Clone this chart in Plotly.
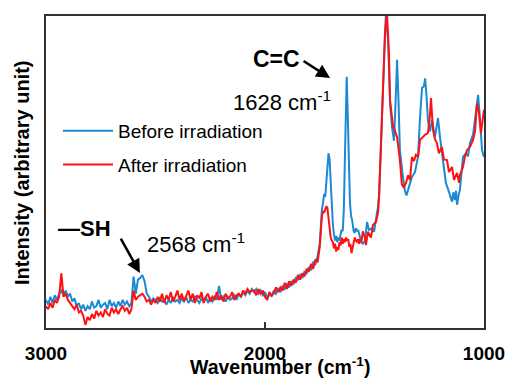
import plotly.graph_objects as go

# ---------------- data ----------------
# Before irradiation (blue)
wn_before = [
    3000, 2990, 2980, 2970, 2960, 2950, 2940, 2930, 2920, 2910, 2900, 2890, 2880, 2870, 2860,
    2850, 2840, 2830, 2820, 2810, 2800, 2790, 2780, 2770, 2760, 2750, 2740, 2730, 2720, 2710,
    2700, 2690, 2680, 2670, 2660, 2650, 2640, 2630, 2620, 2610, 2600, 2590, 2580, 2570, 2560,
    2550, 2540, 2530, 2520, 2510,
    2500, 2490, 2480, 2470, 2460, 2450, 2440, 2430, 2420, 2410, 2400, 2390, 2380, 2370, 2360,
    2350, 2340, 2330, 2320, 2310, 2300, 2290, 2280, 2270, 2260, 2250, 2240, 2230, 2220, 2210,
    2200, 2190, 2180, 2170, 2160, 2150, 2140, 2130, 2120, 2110, 2100, 2090, 2080, 2070, 2060,
    2050, 2040, 2030, 2020, 2010, 2000, 1990, 1980, 1970, 1960, 1950, 1940, 1930, 1920, 1910,
    1900, 1890, 1880, 1870, 1860, 1850, 1840, 1830, 1820, 1810, 1800, 1790, 1780, 1770, 1760,
    1750, 1745, 1740, 1735, 1730, 1725, 1720, 1715, 1710, 1705, 1700, 1695, 1690, 1685, 1680,
    1675, 1670, 1665, 1660, 1655, 1650, 1645, 1640, 1635, 1630, 1627, 1622, 1617, 1612, 1607,
    1602, 1595, 1590, 1585, 1580, 1575, 1570, 1565, 1560, 1553,
    1543, 1534, 1525, 1511, 1502, 1493, 1484, 1479, 1470, 1461, 1452, 1448, 1438, 1429, 1420,
    1411, 1404, 1397, 1390, 1384, 1370, 1361, 1354, 1347, 1338, 1329, 1315, 1301, 1292, 1283,
    1274, 1269, 1263, 1256, 1247, 1237, 1224, 1210, 1201, 1187, 1174, 1164, 1155, 1146, 1140,
    1133, 1128, 1123, 1115, 1110, 1096, 1082, 1073, 1064, 1050, 1041, 1027, 1018, 1009, 1000,
]
int_before = [
    9.0, 7.5, 10.0, 8.0, 10.5, 9.0, 11.0, 12.0, 10.5, 12.0, 10.0, 11.0, 8.5, 9.5, 7.0,
    8.0, 6.0, 7.5, 5.5, 7.0, 6.0, 8.5, 6.5, 7.0, 9.0, 6.5, 7.5, 8.0, 6.0, 9.0,
    7.0, 8.0, 6.5, 8.5, 7.0, 9.0, 7.5, 8.5, 7.0, 8.0, 16.5, 11.0, 15.5, 16.0, 17.0,
    15.0, 11.0, 10.0, 8.5, 9.5,
    9.0, 8.0, 9.5, 8.5, 9.0, 7.5, 9.0, 8.0, 10.0, 8.5, 9.0, 8.0, 9.5, 8.5, 10.0,
    8.0, 9.0, 8.5, 10.0, 9.0, 8.0, 9.5, 8.5, 10.0, 8.0, 9.5, 8.5, 10.0, 9.0, 13.5,
    9.0, 10.0, 8.5, 10.0, 9.0, 9.5, 10.5, 9.0, 11.0, 10.0, 11.5, 10.5, 12.0, 11.0, 12.5,
    11.5, 12.5, 11.0, 12.0, 10.5, 11.5, 9.5, 11.0, 10.0, 12.0, 11.0, 12.5, 11.5, 13.5, 12.5,
    14.0, 13.0, 15.0, 14.0, 16.0, 15.5, 17.0, 16.0, 18.0, 17.5, 19.5, 18.5, 21.0, 20.5, 23.0,
    27.0, 33.0, 38.0, 40.0, 43.0, 42.0, 46.0, 52.0, 56.0, 54.0, 46.0, 38.0, 33.0, 30.0, 28.0,
    29.5, 27.5, 29.0, 28.0, 30.0, 31.5, 31.0, 38.0, 55.0, 74.0, 80.5, 68.0, 50.0, 40.0, 36.0,
    34.5, 31.0, 30.5, 32.0, 31.0, 31.5, 30.0, 29.5, 27.5, 27.0,
    28.0, 34.0, 31.4, 32.0, 30.8, 35.0, 38.8, 43.0, 60.0, 80.0, 98.0, 101.0, 92.0, 72.0, 64.4,
    60.0, 72.0, 86.0, 72.0, 57.0, 48.4, 44.0, 42.5, 44.0, 46.0, 48.4, 50.0, 55.0, 67.6, 77.0,
    77.5, 80.0, 75.0, 66.7, 63.0, 66.7, 61.2, 67.3, 61.2, 52.9, 46.5, 44.5, 42.6, 40.5, 43.5,
    41.0, 44.0, 39.5, 43.0, 44.2, 54.8, 56.0, 55.0, 59.3, 62.0, 66.7, 74.7, 66.7, 57.0, 54.8,
]

# After irradiation (red)
wn_after = [
    3000, 2990, 2980, 2970, 2960, 2950, 2940, 2930, 2920, 2910, 2900, 2890, 2880, 2870, 2860,
    2850, 2840, 2830, 2820, 2810, 2800, 2790, 2780, 2770, 2760, 2750, 2740, 2730, 2720, 2710,
    2700, 2690, 2680, 2670, 2660, 2650, 2640, 2630, 2620, 2610, 2600, 2590, 2580, 2570, 2560,
    2550, 2540, 2530, 2520, 2510,
    2500, 2490, 2480, 2470, 2460, 2450, 2440, 2430, 2420, 2410, 2400, 2390, 2380, 2370, 2360,
    2350, 2340, 2330, 2320, 2310, 2300, 2290, 2280, 2270, 2260, 2250, 2240, 2230, 2220, 2210,
    2200, 2190, 2180, 2170, 2160, 2150, 2140, 2130, 2120, 2110, 2100, 2090, 2080, 2070, 2060,
    2050, 2040, 2030, 2020, 2010, 2000, 1990, 1980, 1970, 1960, 1950, 1940, 1930, 1920, 1910,
    1900, 1890, 1880, 1870, 1860, 1850, 1840, 1830, 1820, 1810, 1800, 1790, 1780, 1770, 1760,
    1750, 1745, 1740, 1735, 1730, 1725, 1720, 1715, 1710, 1705, 1700, 1695, 1690, 1685, 1680,
    1675, 1670, 1665, 1660, 1655, 1650, 1645, 1640, 1635, 1630, 1625, 1620, 1615, 1610, 1605,
    1600, 1595, 1590, 1585, 1580, 1575, 1570, 1565, 1560, 1553,
    1543, 1539, 1530, 1516, 1507, 1493, 1484, 1479, 1470, 1461, 1452, 1443, 1434, 1429, 1416,
    1406, 1397, 1384, 1375, 1366, 1356, 1347, 1338, 1329, 1320, 1311, 1301, 1292, 1283, 1269,
    1256, 1247, 1242, 1233, 1224, 1215, 1206, 1192, 1183, 1169, 1160, 1146, 1137, 1123, 1114,
    1110, 1096, 1087, 1078, 1064, 1050, 1041, 1032, 1023, 1014, 1005, 1000,
]
int_after = [
    7.0, 6.0, 8.0, 6.5, 9.0, 8.0, 10.0, 17.5, 10.0, 11.0, 9.0, 8.0, 7.0, 6.0, 7.5,
    5.0, 5.5, 4.0, 1.0, 3.5, 2.5, 4.5, 3.0, 5.5, 4.0, 5.0, 3.5, 6.0, 4.5, 4.0,
    6.5, 5.0, 6.0, 4.5, 6.0, 7.0, 5.5, 6.5, 4.5, 6.0, 12.0, 9.0, 10.0, 10.5, 11.0,
    10.0, 8.5, 9.0, 7.5, 9.0,
    8.0, 10.0, 8.5, 11.0, 8.0, 10.5, 9.0, 11.5, 8.5, 10.0, 12.0, 9.0, 11.0, 8.5, 10.5,
    12.0, 9.0, 11.0, 8.0, 10.5, 9.5, 11.5, 8.0, 10.0, 11.0, 8.5, 10.0, 9.0, 11.5, 9.0,
    10.5, 8.5, 11.0, 9.5, 10.0, 11.5, 9.0, 10.5, 11.0, 10.0, 12.0, 11.0, 12.5, 11.5, 12.0,
    12.0, 10.5, 12.5, 11.0, 12.0, 10.0, 9.0, 11.5, 10.5, 11.0, 13.0, 11.5, 13.0, 12.0, 14.5,
    12.5, 15.0, 13.5, 15.5, 14.5, 17.0, 15.5, 17.5, 16.5, 19.0, 18.0, 20.5, 19.0, 22.0, 21.0,
    26.0, 31.0, 36.0, 37.5, 37.0, 38.0, 39.0, 38.5, 35.0, 33.0, 29.0, 28.0, 27.5, 25.5, 27.0,
    24.5, 26.0, 25.0, 27.5, 26.5, 29.0, 27.0, 28.5, 27.5, 29.0, 28.0, 28.5, 26.0, 27.0, 24.0,
    26.0, 28.0, 29.0, 28.0, 27.5, 28.5, 27.0, 28.5, 27.5, 31.0,
    28.8, 26.6, 30.8, 29.0, 33.0, 34.0, 37.0, 42.0, 58.0, 78.0, 95.0, 101.0, 88.0, 73.0, 65.0,
    63.0, 61.2, 53.8, 46.0, 45.0, 46.5, 49.0, 47.4, 54.8, 53.5, 55.5, 54.8, 60.3, 61.0, 61.9,
    62.5, 68.0, 73.7, 63.5, 60.5, 59.3, 56.0, 58.0, 54.0, 53.8, 50.0, 51.6, 47.5, 49.7, 46.5,
    49.0, 51.6, 55.0, 57.0, 58.0, 60.3, 63.0, 72.0, 69.0, 62.5, 68.0, 70.0,
]

x_ticks = [3000, 2000, 1000]
x_tick_labels = ["3000", "2000", "1000"]

BLUE = "#1A8AD4"
RED = "#FF1111"
FONT = "Liberation Sans, Arial, sans-serif"

fig = go.Figure()
fig.add_trace(go.Scatter(x=wn_before, y=int_before, mode="lines", name="Before irradiation",
                         legendgroup="b", line=dict(color=BLUE, width=2)))
fig.add_trace(go.Scatter(x=wn_after, y=int_after, mode="lines", name="After irradiation",
                         legendgroup="a", line=dict(color=RED, width=2)))

W, H = 508, 379
ml, mr, mt, mb = 46, 24, 16, 51
pw, ph = W - ml - mr, H - mt - mb


def px(x):
    return (x - ml) / pw


def py(y):
    return (H - mb - y) / ph


def label(text, x, y, size, xanchor="center", angle=0):
    return dict(text=text, x=px(x), y=py(y), xref="paper", yref="paper",
                xanchor=xanchor, yanchor="middle", showarrow=False, textangle=angle,
                font=dict(size=size, color="black", family=FONT))


annotations = [
    label("<b>C=C</b>", 276, 59, 23),
    label("1628 cm<sup>-1</sup>", 231, 101, 22, xanchor="left"),
    label("<b>\u2014SH</b>", 56, 228, 22, xanchor="left"),
    label("2568 cm<sup>-1</sup>", 145, 243, 22, xanchor="left"),
    # arrows
    dict(text="", x=1703, y=80.1, xref="x", yref="y", ax=-28, ay=-18, showarrow=True,
         arrowhead=2, arrowsize=1.1, arrowwidth=2.5, arrowcolor="black"),
    dict(text="", x=2571, y=17.6, xref="x", yref="y", ax=-20, ay=-36, showarrow=True,
         arrowhead=2, arrowsize=1.1, arrowwidth=2.5, arrowcolor="black"),
    # axis titles
    label("<b>Wavenumber (cm<sup>-1</sup>)</b>", 280, 366, 19.5),
    label("<b>Intensity (arbitrary unit)</b>", 22, 173, 20, angle=-90),
]

fig.update_layout(
    width=W, height=H,
    margin=dict(l=ml, r=mr, t=mt, b=mb),
    paper_bgcolor="white", plot_bgcolor="white",
    font=dict(family=FONT, color="black"),
    showlegend=True,
    legend=dict(x=px(58), y=py(112), xanchor="left", yanchor="top",
                bgcolor="rgba(0,0,0,0)", font=dict(size=19, family=FONT),
                itemwidth=50, tracegroupgap=6),
    xaxis=dict(range=[3000, 1000], autorange=False, tickvals=x_ticks, ticktext=x_tick_labels,
               ticks="inside", ticklen=6, tickwidth=1.5, tickcolor="#333", automargin=False,
               showline=True, linecolor="#333", linewidth=1.5, mirror=True,
               showgrid=False, zeroline=False, ticklabelstandoff=7,
               tickfont=dict(size=19, family=FONT, color="black", weight="bold")),
    yaxis=dict(range=[0, 100], autorange=False, showticklabels=False, ticks="", automargin=False,
               showline=True, linecolor="#333", linewidth=1.5, mirror=True,
               showgrid=False, zeroline=False),
    annotations=annotations,
)

fig.write_html("out.html")
